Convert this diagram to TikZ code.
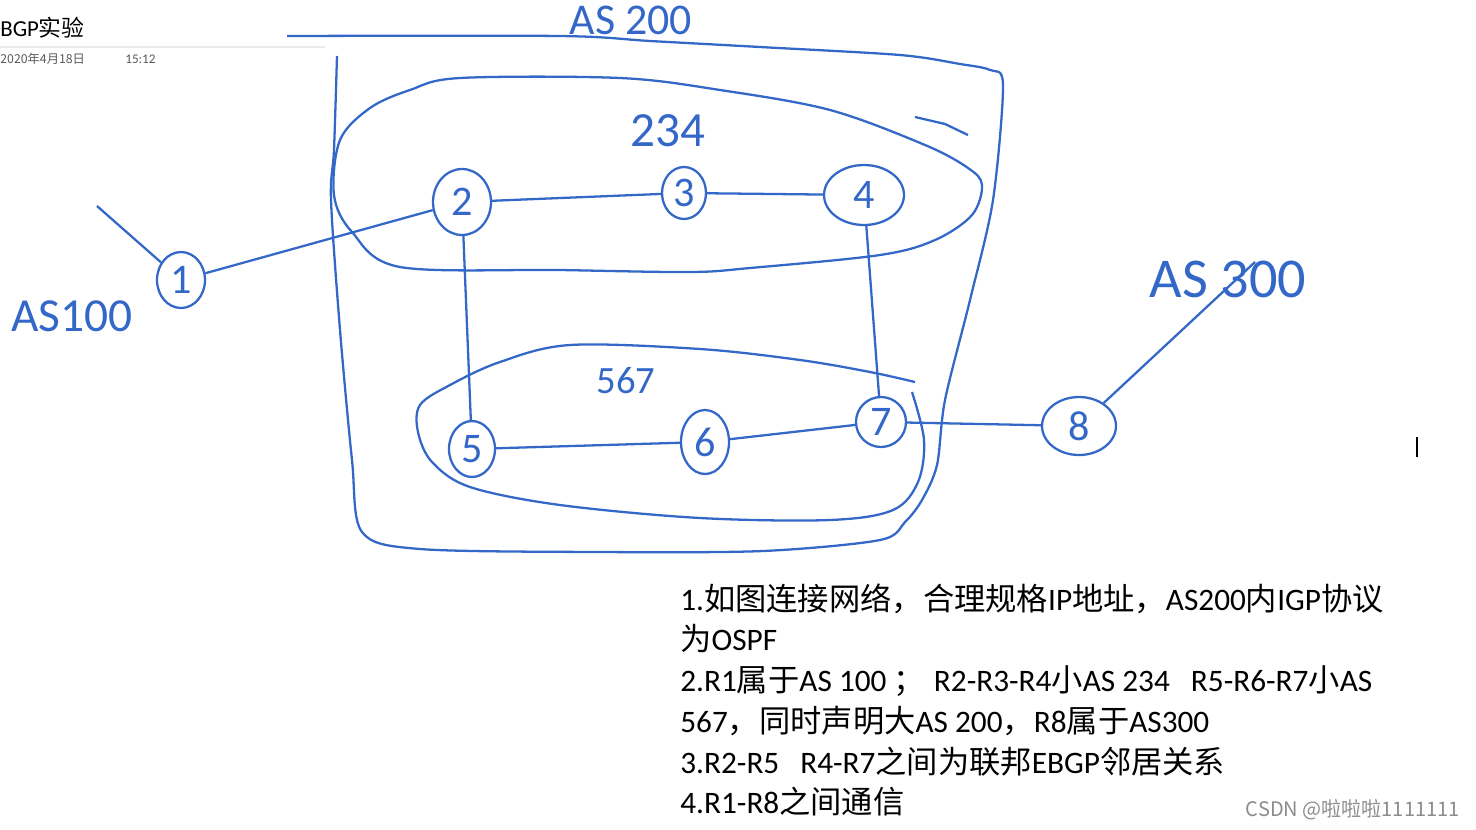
\documentclass[tikz,border=0pt]{standalone}
\usepackage{fontspec}
\setmainfont{Carlito}
\newfontfamily\cjk{Noto Sans CJK SC}
\newcommand\cn[1]{{\cjk #1}}
\usetikzlibrary{shapes.geometric}
\definecolor{pen}{RGB}{52,104,200}
\definecolor{note}{RGB}{90,90,90}

\begin{document}
\begin{tikzpicture}[x=0.02cm, y=-0.02cm,
    router/.style = {draw=pen, ellipse, line width=1.3pt, text=pen, inner sep=0pt,
                     font=\fontsize{24}{24}\selectfont},
    link/.style = {draw=pen, line width=1.3pt},
    region/.style = {draw=pen, line width=1.3pt, line join=round},
    hand/.style = {text=pen, inner sep=0pt, font=\fontsize{26}{26}\selectfont}]
    \useasboundingbox (0,0) rectangle (1476,829);

    % page header
    \node[anchor=west, inner sep=0pt, font=\fontsize{13}{14}\selectfont] (title) at (0,28) {BGP\cn{实验}};
    \draw[black!8, line width=0.8pt] (0,47) -- (325,47);
    \node[anchor=west, inner sep=0pt, text=note, font=\cjk\fontsize{7}{8}\selectfont] (date) at (0,59) {2020年4月18日};
    \node[anchor=west, inner sep=0pt, text=note, font=\fontsize{7.5}{8}\selectfont] (time) at (125,59) {15:12};

    % the AS 200 region and the two sub-ASes
    \draw[region] plot[smooth, tension=0.5] coordinates {(337,56) (334,150) (331,200) (340,330) (352,460) (362,532)
        (420,549) (600,552) (763,551) (880,540) (905,522) (922,500) (937,465) (945,400) (970,300) (993,200) (1003,85)
        (990,70) (960,64) (900,55) (760,47) (650,41) (560,36) (287,36)};
    \draw[region] plot[smooth cycle, tension=0.55] coordinates {(460,78) (620,78) (720,90) (830,110) (925,145) (968,168)
        (982,185) (972,215) (935,240) (880,255) (750,268) (690,272) (560,270) (400,267) (352,232) (334,195) (340,140) (370,108) (410,90)};
    \draw[region] (915,117) -- (945,124) -- (968,135);
    \draw[region] plot[smooth, tension=0.55] coordinates {(915,382) (870,372) (800,360) (700,349) (570,345) (500,362)
        (450,385) (420,405) (418,432) (432,462) (470,487) (560,505) (700,518) (830,520) (893,510) (918,482) (924,440) (912,392)};

    % routers
    \node[router, minimum width=0.96cm, minimum height=1.12cm] (R1) at (181,280) {1};
    \node[router, minimum width=1.16cm, minimum height=1.32cm] (R2) at (462,202) {2};
    \node[router, minimum width=0.88cm, minimum height=1.04cm] (R3) at (684,193) {3};
    \node[router, minimum width=1.60cm, minimum height=1.20cm] (R4) at (864,195) {4};
    \node[router, minimum width=0.92cm, minimum height=1.12cm] (R5) at (472,449) {5};
    \node[router, minimum width=0.96cm, minimum height=1.28cm] (R6) at (705,442) {6};
    \node[router, minimum width=1.00cm, minimum height=1.00cm] (R7) at (881,422) {7};
    \node[router, minimum width=1.48cm, minimum height=1.16cm] (R8) at (1079,426) {8};

    \coordinate (to100) at (97,206);
    \coordinate (to300) at (1255,262);

    \path[link] (R1) edge (R2);
    \path[link] (R2) edge (R3);
    \path[link] (R3) edge (R4);
    \path[link] (R2) edge (R5);
    \path[link] (R4) edge (R7);
    \path[link] (R5) edge (R6);
    \path[link] (R6) edge (R7);
    \path[link] (R7) edge (R8);
    \path[link] (R1) edge (to100);
    \path[link] (R8) edge (to300);

    % AS labels
    \node[hand, font=\fontsize{25}{25}\selectfont] (as200) at (631,20) {AS 200};
    \node[hand, font=\fontsize{28}{28}\selectfont] (as234) at (668,131) {234};
    \node[hand, font=\fontsize{22}{22}\selectfont] (as567) at (626,381) {567};
    \node[hand, font=\fontsize{27}{27}\selectfont] (as100) at (72,316) {AS100};
    \node[hand, font=\fontsize{32}{32}\selectfont] (as300) at (1228,279) {AS 300};

    % task list
    \node[anchor=north west, inner sep=0pt, align=left, font=\fontsize{17.8}{23.2}\selectfont] (tasks) at (680,583) {%
        1.\cn{如图连接网络，合理规格}IP\cn{地址，}AS200\cn{内}IGP\cn{协议}\\
        \cn{为}OSPF\\
        2.R1\cn{属于}AS 100 \cn{；}\hspace{0.18cm}R2-R3-R4\cn{小}AS 234\hspace{0.42cm}R5-R6-R7\cn{小}AS\\
        567\cn{，同时声明大}AS 200\cn{，}R8\cn{属于}AS300\\
        3.R2-R5\hspace{0.42cm}R4-R7\cn{之间为联邦}EBGP\cn{邻居关系}\\
        4.R1-R8\cn{之间通信}};

    \node[anchor=east, inner sep=0pt, text=black!45, font=\cjk\fontsize{11.4}{12}\selectfont] (mark) at (1460,810) {CSDN @啦啦啦1111111};
    \draw[black, line width=0.8pt] (1417,437) -- (1417,457);
\end{tikzpicture}
\end{document}
